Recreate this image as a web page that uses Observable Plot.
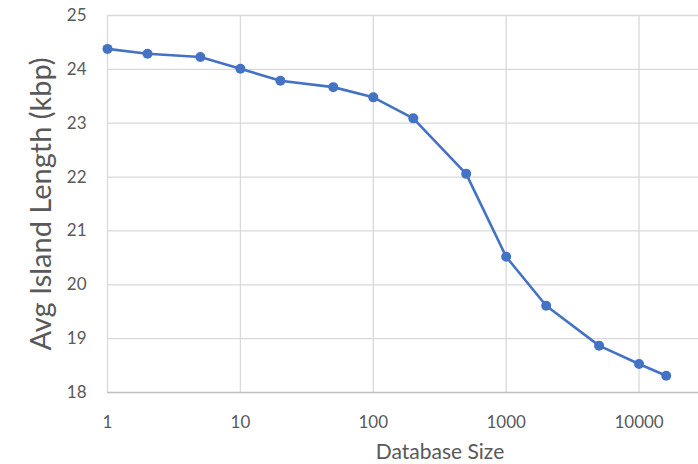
<!DOCTYPE html>
<html>
<head>
<meta charset="utf-8">
<script src="https://cdn.jsdelivr.net/npm/d3@7"></script>
<script src="https://cdn.jsdelivr.net/npm/@observablehq/plot@0.6"></script>
<style>
  html, body { margin: 0; padding: 0; background: #fff; }
</style>
</head>
<body>
<div id="chart"></div>
<script>
const sizes = [1, 2, 5, 10, 20, 50, 100, 200, 500, 1000, 2000, 5000, 10000, 16000];
const lengths = [24.38, 24.29, 24.23, 24.01, 23.79, 23.67, 23.48, 23.09, 22.06, 20.52, 19.61, 18.87, 18.53, 18.31];
const xTicks = [1, 10, 100, 1000, 10000];
const yTicks = [18, 19, 20, 21, 22, 23, 24, 25];
const xTitle = "Database Size";
const yTitle = "Avg Island Length (kbp)";

const data = sizes.map((s, i) => ({size: s, len: lengths[i]}));

const chart = Plot.plot({
  width: 698,
  height: 464,
  marginLeft: 107,
  marginRight: 0,
  marginTop: 15,
  marginBottom: 72,
  style: {fontFamily: "Lato", color: "#595959", background: "#fff"},
  x: {type: "log", domain: [1, 28000]},
  y: {domain: [18, 25]},
  marks: [
    Plot.gridX(xTicks, {stroke: "#d9d9d9", strokeOpacity: 1, strokeWidth: 1.3}),
    Plot.gridY(yTicks.filter(d => d > 18), {stroke: "#d9d9d9", strokeOpacity: 1, strokeWidth: 1.3}),
    Plot.ruleY([18], {stroke: "#bfbfbf", strokeWidth: 1.3}),
    Plot.axisX(xTicks, {tickSize: 0, tickPadding: 23, fontSize: 17, tickFormat: d => String(d), label: null}),
    Plot.axisY(yTicks, {tickSize: 0, tickPadding: 21, fontSize: 17, tickFormat: d => String(d), label: null}),
    Plot.text([xTitle], {frameAnchor: "bottom", dx: 37, dy: 66, fontSize: 21, fill: "#595959"}),
    Plot.text([yTitle], {frameAnchor: "left", dx: -66, textAnchor: "middle", rotate: -90, fontSize: 29, fill: "#595959"}),
    Plot.line(data, {x: "size", y: "len", stroke: "#4472C4", strokeWidth: 2.6}),
    Plot.dot(data, {x: "size", y: "len", r: 5, fill: "#4472C4", stroke: "none"})
  ]
});
document.getElementById("chart").appendChild(chart);
</script>
</body>
</html>
